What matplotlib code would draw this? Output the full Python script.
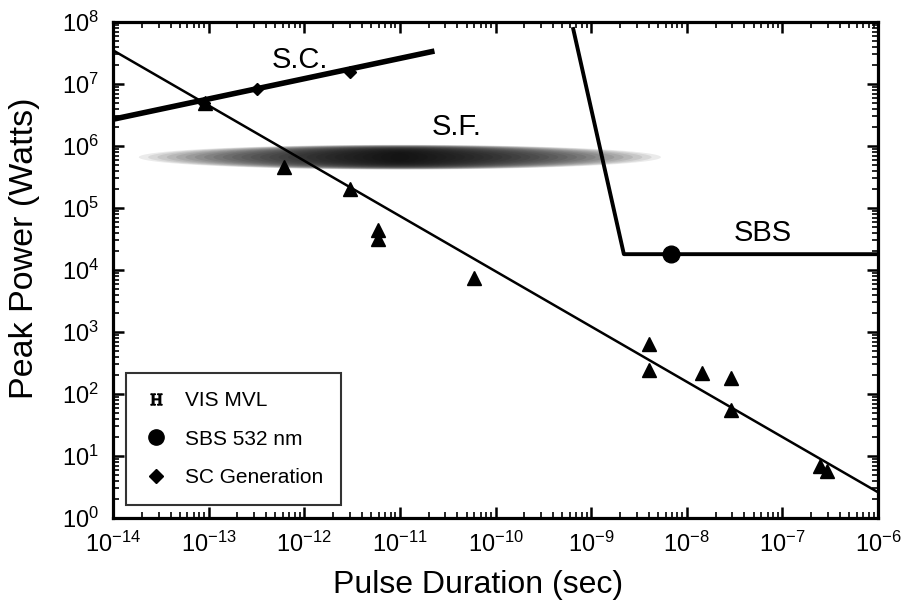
import numpy as np
import matplotlib
matplotlib.use("Agg")
import matplotlib.pyplot as plt
from matplotlib.lines import Line2D

plt.rcParams['font.family'] = ['Liberation Sans', 'DejaVu Sans']
plt.rcParams['mathtext.fontset'] = 'custom'
plt.rcParams['mathtext.rm'] = 'Liberation Sans'
plt.rcParams['mathtext.it'] = 'Liberation Sans:italic'
plt.rcParams['mathtext.sf'] = 'Liberation Serif'
plt.rcParams['mathtext.default'] = 'regular'

# ---- data ----
vis_x = [9.1e-14, 6.1e-13, 3.0e-12, 5.9e-12, 5.9e-12, 5.9e-11,
         4.0e-9, 4.0e-9, 1.45e-8, 2.9e-8, 2.9e-8, 2.5e-7, 2.9e-7]
vis_y = [5.0e6, 4.6e5, 2.0e5, 4.4e4, 3.2e4, 7.5e3,
         6.5e2, 2.4e2, 2.2e2, 1.8e2, 55, 6.8, 5.7]

sc_x = [9.0e-14, 3.2e-13, 3.0e-12]
sc_y = [5.0e6, 8.4e6, 1.55e7]

sbs_pt_x = [6.8e-9]
sbs_pt_y = [1.8e4]

fit_x = [1e-14, 1e-6]
fit_y = [3.5e7, 2.6]

sc_line_x = [1e-14, 2.3e-11]
sc_line_y = [2.7e6, 3.4e7]

sbs_line_x = [6.5e-10, 2.2e-9, 1e-6]
sbs_line_y = [7.7e7, 1.8e4, 1.8e4]

# S.F. region: centre (x, y), half-extent in decades (x, y)
sf_center = [1e-11, 6.6e5]
sf_half_decades = [2.73, 0.2]

x_ticks = [1e-14, 1e-13, 1e-12, 1e-11, 1e-10, 1e-9, 1e-8, 1e-7, 1e-6]
y_ticks = [1e0, 1e1, 1e2, 1e3, 1e4, 1e5, 1e6, 1e7, 1e8]

# ---- figure ----
fig = plt.figure(figsize=(9.13, 6.05), dpi=100)
ax = fig.add_axes([113/913, 1-518/605, 765/913, 496/605])
ax.set_xscale('log')
ax.set_yscale('log')
ax.set_xlim(1e-14, 1e-6)
ax.set_ylim(1e0, 1e8)

# S.F. shaded band (stacked translucent ellipses)
cx, cy = np.log10(sf_center[0]), np.log10(sf_center[1])
t = np.linspace(0, 2*np.pi, 300)
N = 28
for k in range(N):
    frac = 1 - k / N
    a = sf_half_decades[0] * frac
    b = sf_half_decades[1] * frac ** 0.35
    ex = 10 ** (cx + a * np.cos(t))
    ey = 10 ** (cy + b * np.sin(t))
    ax.fill(ex, ey, color='black', alpha=0.08, lw=0, zorder=1)

ax.plot(fit_x, fit_y, color='black', lw=1.8, zorder=3)
ax.plot(sc_line_x, sc_line_y, color='black', lw=4, solid_capstyle='butt', zorder=3)
ax.plot(sbs_line_x, sbs_line_y, color='black', lw=2.8, zorder=3)

ax.plot(vis_x, vis_y, ls='none', marker='^', ms=10, color='black', zorder=4)
ax.plot(sc_x, sc_y, ls='none', marker='D', ms=6.5, color='black', zorder=4)
ax.plot(sbs_pt_x, sbs_pt_y, ls='none', marker='o', ms=12, color='black', zorder=5)

ax.text(9.0e-13, 2.4e7, 'S.C.', fontsize=21, ha='center', va='center')
ax.text(3.9e-11, 2.0e6, 'S.F.', fontsize=21, ha='center', va='center')
ax.text(6.2e-8, 4.0e4, 'SBS', fontsize=21, ha='center', va='center')

# axes styling
for s in ax.spines.values():
    s.set_linewidth(2.3)
ax.set_xticks(x_ticks)
ax.set_yticks(y_ticks)
ax.set_xticklabels([r'$10^{%d}$' % int(round(np.log10(v))) for v in x_ticks])
ax.set_yticklabels([r'$10^{%d}$' % int(round(np.log10(v))) for v in y_ticks])
ax.tick_params(which='major', direction='in', length=8, width=1.8,
               top=True, right=True, labelsize=17, pad=10)
ax.tick_params(which='minor', direction='in', length=4, width=1.2,
               top=True, right=True)
ax.xaxis.set_minor_locator(matplotlib.ticker.LogLocator(base=10, subs=np.arange(2, 10), numticks=20))
ax.yaxis.set_minor_locator(matplotlib.ticker.LogLocator(base=10, subs=np.arange(2, 10), numticks=20))
ax.xaxis.set_minor_formatter(matplotlib.ticker.NullFormatter())
ax.yaxis.set_minor_formatter(matplotlib.ticker.NullFormatter())

ax.set_xlabel('Pulse Duration (sec)', fontsize=23)
ax.set_ylabel('Peak Power (Watts)', fontsize=24.5)
ax.xaxis.set_label_coords((478-113)/765, (518-585)/496)
ax.xaxis.label.set_va('center')
ax.yaxis.set_label_coords((25-113)/765, (518-248)/496)
ax.yaxis.label.set_va('center')

handles = [
    Line2D([], [], ls='none', marker=r'$\mathsf{H}$', ms=8, color='black'),
    Line2D([], [], ls='none', marker='o', ms=11, color='black'),
    Line2D([], [], ls='none', marker='D', ms=7, color='black'),
]
labels = ['VIS MVL', 'SBS 532 nm', 'SC Generation']
leg = ax.legend(handles, labels, loc='lower left', bbox_to_anchor=(0.017, 0.026),
                borderaxespad=0, fontsize=15, frameon=True, fancybox=False,
                edgecolor='black', labelspacing=0.95, handletextpad=0.8,
                borderpad=0.85, handlelength=1.2)
leg.get_frame().set_linewidth(1.5)

fig.savefig('out.png', dpi=100)
